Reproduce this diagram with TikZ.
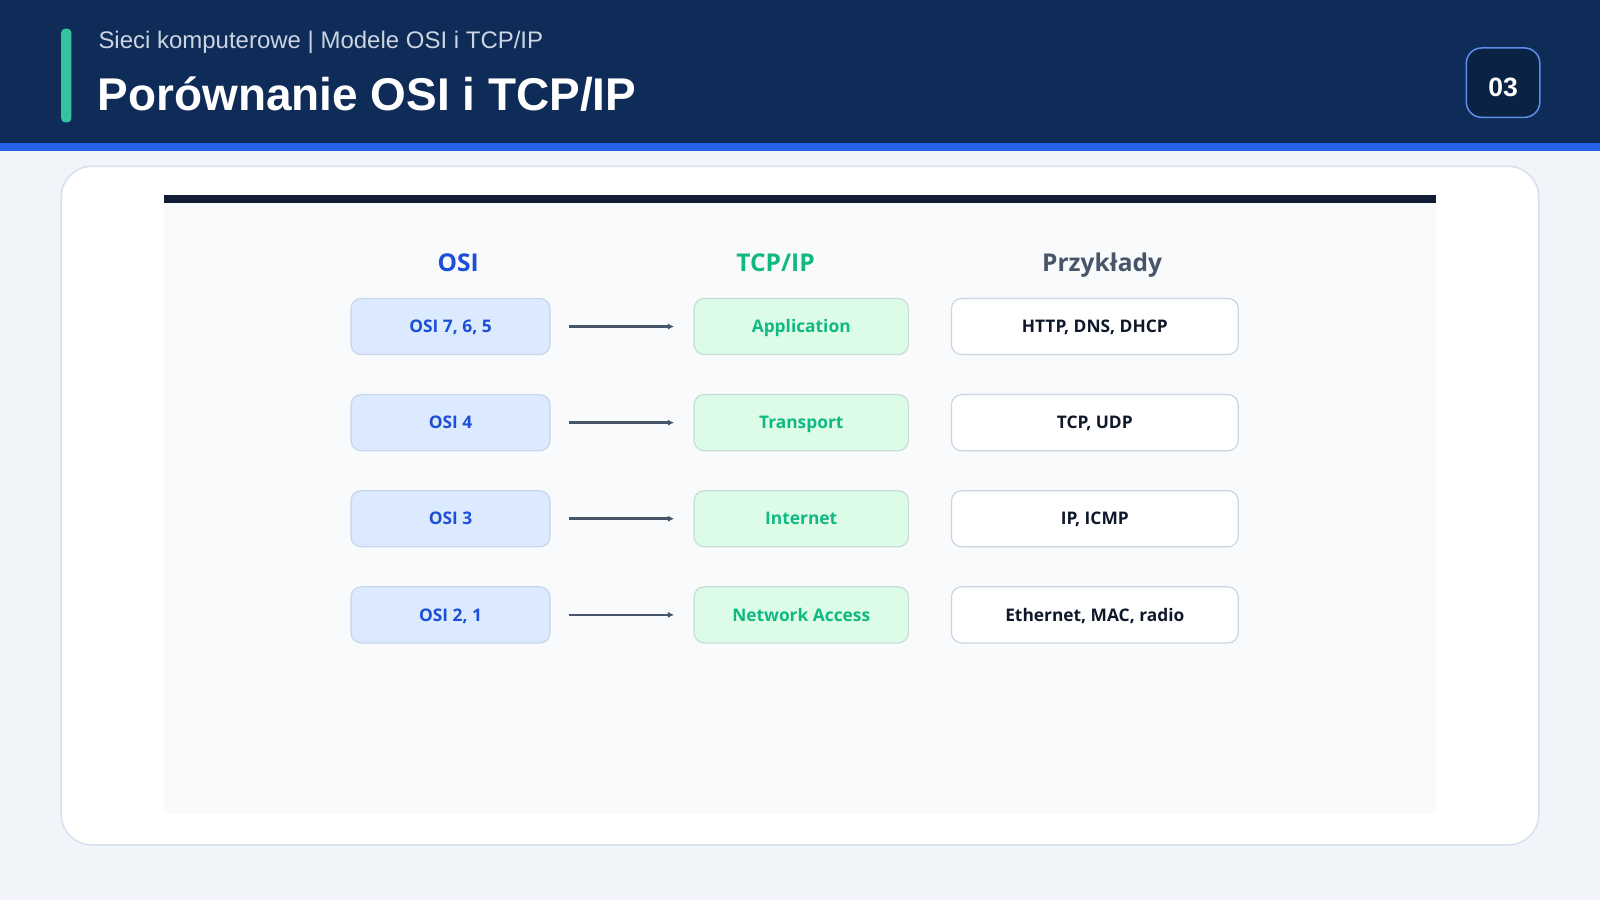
\documentclass[tikz,border=0pt]{standalone}
\usepackage{fontspec}
\setmainfont{Liberation Sans}
\newfontfamily\boxfont{Open Sans}
\usetikzlibrary{arrows.meta, positioning}
\definecolor{pagebg}{HTML}{F1F5F9}
\definecolor{navy}{HTML}{0F2B57}
\definecolor{stripe}{HTML}{2563EB}
\definecolor{accent}{HTML}{34C39C}
\definecolor{subgray}{HTML}{CBD5E1}
\definecolor{badgebg}{HTML}{0A2244}
\definecolor{badgeline}{HTML}{5B8FEA}
\definecolor{cardline}{HTML}{D6E0EE}
\definecolor{panelbg}{HTML}{F8FAFC}
\definecolor{darkbar}{HTML}{111C35}
\definecolor{osiblue}{HTML}{1D4ED8}
\definecolor{osifill}{HTML}{DBEAFE}
\definecolor{osiline}{HTML}{C9D6EA}
\definecolor{tcpgreen}{HTML}{10B981}
\definecolor{tcpfill}{HTML}{DCFCE7}
\definecolor{tcpline}{HTML}{C8DDD6}
\definecolor{exline}{HTML}{CBD5E1}
\definecolor{extext}{HTML}{0F172A}
\definecolor{slate}{HTML}{475569}
\tikzstyle{layerbox} = [rectangle, rounded corners=10pt, minimum height=55pt, text centered, text height=12pt, text depth=0pt, line width=1.2pt, font=\boxfont\bfseries\fontsize{17}{20}\selectfont]
\tikzstyle{link} = [line width=2.6pt, draw=slate, -{Latex[length=6pt, width=6pt]}, shorten <=18pt, shorten >=19pt]

\begin{document}
\begin{tikzpicture}[x=1pt, y=-1pt,
        osibox/.style={layerbox, minimum width=195pt, fill=osifill, draw=osiline, text=osiblue},
        tcpbox/.style={layerbox, minimum width=210pt, fill=tcpfill, draw=tcpline, text=tcpgreen},
        exbox/.style={layerbox, minimum width=281pt, fill=white, draw=exline, text=extext},
        colhead/.style={anchor=base, font=\boxfont\bfseries\fontsize{24}{28}\selectfont},
        node distance=38pt and 140pt
    ]

    % Page and header
    \fill[pagebg] (0,0) rectangle (1568,882);
    \useasboundingbox (0,0) rectangle (1568,882);
    \fill[navy] (0,0) rectangle (1568,140);
    \fill[stripe] (0,140) rectangle (1568,148);
    \fill[accent, rounded corners=4pt] (60,28) rectangle (70,120);
    \node[anchor=west, text=subgray, font=\fontsize{23.5}{27}\selectfont] (sub) at (93,42) {Sieci komputerowe | Modele OSI i TCP/IP};
    \node[anchor=west, text=white, font=\bfseries\fontsize{45}{50}\selectfont] (title) at (92.5,92) {Porównanie OSI i TCP/IP};
    \node[rectangle, rounded corners=15pt, minimum width=72pt, minimum height=68pt, text height=26.6pt, text depth=0pt, fill=badgebg, draw=badgeline, line width=1.5pt, text=white, font=\bfseries\fontsize{26}{30}\selectfont] (num) at (1473,81) {03};

    % Card and panel
    \draw[cardline, line width=1.5pt, fill=white, rounded corners=30pt] (60,163) rectangle (1508,828);
    \fill[panelbg] (161,191) rectangle (1407,798);
    \fill[darkbar] (161,191) rectangle (1407,199);

    % Column headers
    \node[colhead, text=osiblue] (hosi) at (449,266) {OSI};
    \node[colhead, text=tcpgreen] (htcp) at (760,266) {TCP/IP};
    \node[colhead, text=slate] (hex) at (1080,266) {Przykłady};

    % OSI layers
    \node[osibox] (o1) at (441.5,320) {OSI 7, 6, 5};
    \node[osibox, below=of o1] (o2) {OSI 4};
    \node[osibox, below=of o2] (o3) {OSI 3};
    \node[osibox, below=of o3] (o4) {OSI 2, 1};

    % TCP/IP layers
    \node[tcpbox, right=of o1] (t1) {Application};
    \node[tcpbox, right=of o2] (t2) {Transport};
    \node[tcpbox, right=of o3] (t3) {Internet};
    \node[tcpbox, right=of o4] (t4) {Network Access};

    % Examples
    \node[exbox, right=41pt of t1] (e1) {HTTP, DNS, DHCP};
    \node[exbox, right=41pt of t2] (e2) {TCP, UDP};
    \node[exbox, right=41pt of t3] (e3) {IP, ICMP};
    \node[exbox, right=41pt of t4] (e4) {Ethernet, MAC, radio};

    % Mappings
    \draw[link] (o1) -- (t1);
    \draw[link] (o2) -- (t2);
    \draw[link] (o3) -- (t3);
    \draw[link] (o4) -- (t4);

\end{tikzpicture}
\end{document}
